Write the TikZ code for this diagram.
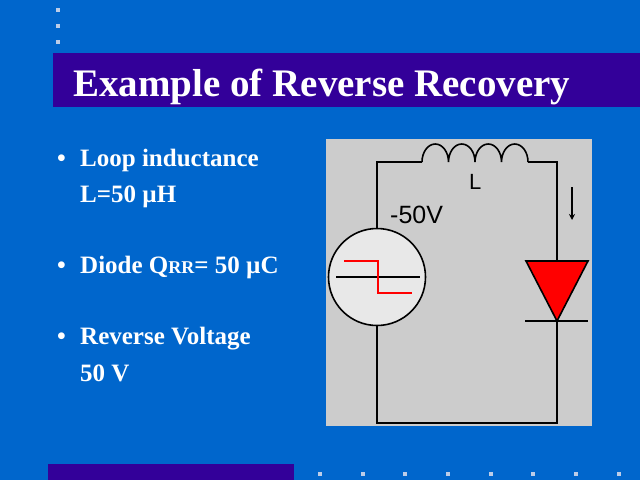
\documentclass[tikz,border=0pt]{standalone}
\usepackage{fontspec}
\setmainfont{Liberation Serif}
\newfontfamily\circfont{Liberation Sans}
\usetikzlibrary{arrows.meta}
\definecolor{slideblue}{HTML}{0066CC}
\definecolor{titlebar}{HTML}{330099}
\definecolor{dotgrey}{HTML}{BCCDE8}
\definecolor{panelgrey}{HTML}{CCCCCC}
\definecolor{srcgrey}{HTML}{E8E8E8}
\definecolor{diodered}{HTML}{FF0000}
\begin{document}
\begin{tikzpicture}[x=1pt,y=-1pt,
    wire/.style={line width=1.6pt, black},
    bodytext/.style={anchor=base west, text=white, inner sep=0pt,
      font=\fontsize{25}{30}\selectfont\bfseries},
    circtext/.style={anchor=base west, inner sep=0pt, font=\circfont\fontsize{25}{30}\selectfont}]
  \useasboundingbox (0,0) rectangle (640,480);
  \fill[slideblue] (0,0) rectangle (640,480);
  % bars and dots
  \fill[titlebar] (53,53) rectangle (640,107);
  \fill[titlebar] (48,464) rectangle (294,480);
  \foreach \y in {10,26,42} \fill[dotgrey] (56,\y-2) rectangle +(4,4);
  \foreach \x in {320,363,405,448,491,533,576,619} \fill[dotgrey] (\x-2,472) rectangle +(4,4);
  \node (title) at (73,96) [anchor=base west, text=white, inner sep=0pt,
    font=\fontsize{39}{44}\selectfont\bfseries] {Example of Reverse Recovery};
  % bullet list
  \foreach \y/\n in {166/a,273/b,344/c} \node (dot\n) at (57,\y) [bodytext] {•};
  \node (loop) at (80,166) [bodytext] {Loop inductance};
  \node (lval) at (80,202) [bodytext] {L=50 µH};
  \node (qrr) at (80,273) [bodytext] {Diode Q{\fontsize{18}{20}\selectfont RR}= 50 µC};
  \node (rev) at (80,344) [bodytext] {Reverse Voltage};
  \node (vval) at (80,381) [bodytext] {50 V};
  % circuit
  \fill[panelgrey] (326,139) rectangle (592,426);
  \coordinate (tl) at (377,162);
  \coordinate (tr) at (557,162);
  \coordinate (bl) at (377,423);
  \coordinate (br) at (557,423);
  \coordinate (lin) at (422,162);
  \coordinate (lout) at (528,162);
  \coordinate (dtop) at (557,261);
  \coordinate (dbot) at (557,321);
  \node (src) at (377,277) [circle, draw, line width=1.6pt, fill=srcgrey,
    minimum size=97pt, inner sep=0pt] {};
  \draw[line width=1.4pt] (336,277) -- (420,277);
  \draw[line width=1.6pt, diodered] (344,261) -- (378,261) -- (378,293) -- (412,293);
  \draw[wire] (src.north) -- (tl) -- (lin);
  \draw[wire] (lin) \foreach \i in {1,...,4} {arc[start angle=180, end angle=0, x radius=13.25pt, y radius=18pt]};
  \draw[wire] (lout) -- (tr) -- (dtop);
  \draw[wire] (dbot) -- (br) -- (bl) -- (src.south);
  \draw[wire, fill=diodered, line join=miter] (526,261) -- (588,261) -- (dbot) -- cycle;
  \draw[wire] (525,321) -- (588,321);
  \coordinate (itop) at (572,187);
  \coordinate (ibot) at (572,220);
  \draw[line width=1.4pt, -{Stealth[length=6pt,width=6pt]}] (itop) -- (ibot);
  \node (lbl) at (469,189) [circtext, font=\circfont\fontsize{22}{26}\selectfont] {L};
  \node (vlbl) at (390,223) [circtext] {-50V};
\end{tikzpicture}
\end{document}
